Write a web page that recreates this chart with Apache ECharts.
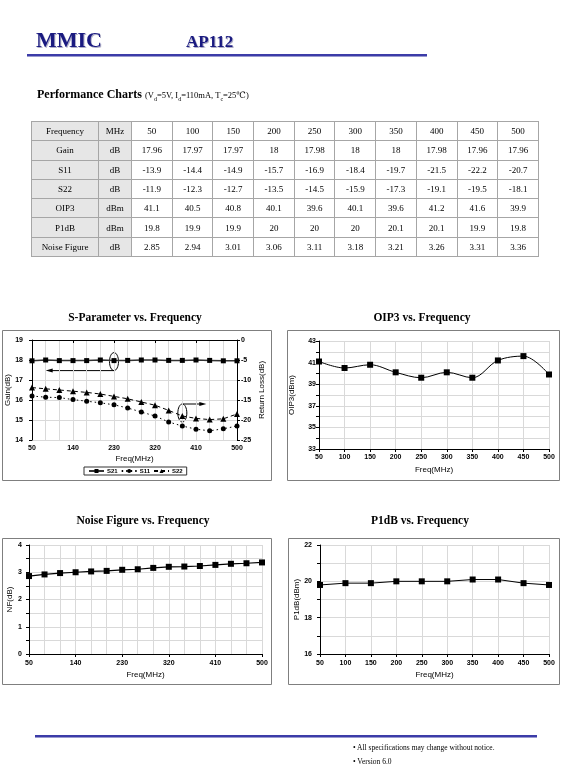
<!DOCTYPE html>
<html>
<head>
<meta charset="utf-8">
<script src="https://cdn.jsdelivr.net/npm/echarts@6/dist/echarts.min.js"></script>
<style>
  body { margin: 0; width: 561px; height: 781px; position: relative; overflow: hidden; background: #fff;
         font-family: "Liberation Serif", "DejaVu Serif", serif; color: #000; }
  #charts { position: absolute; left: 0; top: 0; width: 561px; height: 781px; }
  .abs { position: absolute; white-space: nowrap; line-height: 1; }
  .navy { color: #1a1a80; font-weight: bold; text-shadow: 1px 1px 0 #b0b0c8; }
  .rule { position: absolute; height: 2px; background: #3c3ca8; border-bottom: 1px solid #9a9ad0; }
  #spec { position: absolute; left: 31px; top: 121px; border-collapse: collapse; font-size: 9px;
          border: 1px solid #808080; }
  #spec td { border: 1px solid #a6a6a6; height: 18.3px; padding: 0; text-align: center; }
  #spec td.hd { background: #e6e6e6; }
  .foot { font-size: 7.5px; }
</style>
</head>
<body>
<div id="charts"></div>

<div class="abs navy" style="left:36px;top:29px;font-size:22px;">MMIC</div>
<div class="abs navy" style="left:186px;top:33px;font-size:17px;">AP112</div>
<div class="rule" style="left:27px;top:54px;width:400px;"></div>

<div class="abs" style="left:37px;top:88px;font-size:12px;font-weight:bold;">Performance Charts
  <span style="font-size:8.5px;font-weight:normal;">(V<sub style="font-size:6px">d</sub>=5V, I<sub style="font-size:6px">d</sub>=110mA, T<sub style="font-size:6px">c</sub>=25℃)</span></div>

<table id="spec"></table>

<div class="rule" style="left:35px;top:735px;width:502px;"></div>
<div class="abs foot" style="left:353px;top:744px;">• All specifications may change without notice.</div>
<div class="abs foot" style="left:353px;top:758px;">• Version 6.0</div>

<script>
// table values
var freqTable = [50, 100, 150, 200, 250, 300, 350, 400, 450, 500];
var gainTable = [17.96, 17.97, 17.97, 18, 17.98, 18, 18, 17.98, 17.96, 17.96];
var s11Table = [-13.9, -14.4, -14.9, -15.7, -16.9, -18.4, -19.7, -21.5, -22.2, -20.7];
var s22Table = [-11.9, -12.3, -12.7, -13.5, -14.5, -15.9, -17.3, -19.1, -19.5, -18.1];
var oip3Table = [41.1, 40.5, 40.8, 40.1, 39.6, 40.1, 39.6, 41.2, 41.6, 39.9];
var p1dbTable = [19.8, 19.9, 19.9, 20, 20, 20, 20.1, 20.1, 19.9, 19.8];
var nfTable = [2.85, 2.94, 3.01, 3.06, 3.11, 3.18, 3.21, 3.26, 3.31, 3.36];

var sweepFreq = ['50', '80', '110', '140', '170', '200', '230', '260', '290', '320', '350', '380', '410', '440', '470', '500'];
var s21Curve = [17.96, 18.0, 17.97, 17.97, 17.97, 18.0, 17.97, 17.98, 18.0, 18.0, 17.98, 17.98, 18.0, 17.98, 17.96, 17.96];
var s11Curve = [-14.0, -14.3, -14.4, -14.9, -15.3, -15.7, -16.2, -17.0, -18.0, -19.0, -20.5, -21.5, -22.3, -22.7, -22.2, -21.5];
var s22Curve = [-11.9, -12.2, -12.5, -12.8, -13.1, -13.5, -14.1, -14.7, -15.5, -16.3, -17.6, -19.0, -19.6, -19.9, -19.7, -18.5];
var nfCurve = [2.86, 2.92, 2.97, 3.0, 3.03, 3.05, 3.09, 3.11, 3.16, 3.2, 3.21, 3.23, 3.27, 3.31, 3.33, 3.36];

// build the table
var rows = [
  ['Frequency', 'MHz', freqTable],
  ['Gain', 'dB', gainTable],
  ['S11', 'dB', s11Table],
  ['S22', 'dB', s22Table],
  ['OIP3', 'dBm', oip3Table],
  ['P1dB', 'dBm', p1dbTable],
  ['Noise Figure', 'dB', nfTable]
];
var html = '';
rows.forEach(function (r) {
  html += '<tr><td class="hd" style="width:66px">' + r[0] + '</td><td class="hd" style="width:32px">' + r[1] + '</td>';
  r[2].forEach(function (v) { html += '<td style="width:39.7px">' + v + '</td>'; });
  html += '</tr>';
});
document.getElementById('spec').innerHTML = html;

var chart = echarts.init(document.getElementById('charts'));

var lab = { fontFamily: 'Liberation Sans', fontWeight: 'bold', fontSize: 7, color: '#000' };
var nameStyle = { fontFamily: 'Liberation Sans', fontSize: 8, color: '#000' };
var gridLine = { show: true, lineStyle: { color: '#d9d9d9', width: 1 } };

function catAxis(gi, data, every, margin, gap) {
  return {
    type: 'category', gridIndex: gi, data: data, boundaryGap: false,
    axisLine: { lineStyle: { color: '#000', width: 1 } },
    axisTick: { show: true, length: 3, interval: every, lineStyle: { color: '#000' } },
    axisLabel: Object.assign({ interval: every, margin: margin }, lab),
    splitLine: Object.assign({ interval: 0 }, gridLine),
    name: 'Freq(MHz)', nameLocation: 'middle', nameGap: gap, nameTextStyle: nameStyle
  };
}

function valAxis(gi, min, max, step, labelStep, name, gap, margin, pos, split) {
  return {
    type: 'value', gridIndex: gi, min: min, max: max, interval: step, position: pos || 'left',
    axisLine: { show: true, lineStyle: { color: '#000', width: 1 } },
    axisTick: { show: true, length: 3, lineStyle: { color: '#000' } },
    axisLabel: Object.assign({
      margin: margin,
      formatter: function (v) {
        var k = (v - min) / labelStep;
        return Math.abs(k - Math.round(k)) < 1e-6 ? String(v) : '';
      }
    }, lab),
    splitLine: split === false ? { show: false } : gridLine,
    name: name, nameLocation: 'middle', nameGap: gap, nameTextStyle: nameStyle
  };
}

function titleAt(text, cx, top) {
  return {
    text: text, left: cx, top: top, textAlign: 'center', padding: 0,
    textStyle: { fontFamily: 'Liberation Serif', fontWeight: 'bold', fontSize: 11.5, color: '#000' }
  };
}

function frame(id, x1, y1, x2, y2) {
  return { id: id, type: 'rect', silent: true, z: -1,
    shape: { x: x1 + 0.5, y: y1 + 0.5, width: x2 - x1, height: y2 - y1 },
    style: { fill: null, stroke: '#7f7f7f', lineWidth: 1 } };
}

var black = '#000';

chart.setOption({
  animation: false,
  title: [
    titleAt('S-Parameter vs. Frequency', 135, 312),
    titleAt('OIP3 vs. Frequency', 422, 312),
    titleAt('Noise Figure vs. Frequency', 143, 515),
    titleAt('P1dB vs. Frequency', 420, 515)
  ],
  grid: [
    { left: 32, top: 340, width: 205, height: 100 },
    { left: 319, top: 341, width: 230, height: 108 },
    { left: 29, top: 545, width: 233, height: 109 },
    { left: 320, top: 545, width: 229, height: 109 }
  ],
  xAxis: [
    catAxis(0, sweepFreq, 2, 5, 15),
    catAxis(1, freqTable.map(String), 0, 5, 17),
    catAxis(2, sweepFreq, 2, 6, 17),
    catAxis(3, freqTable.map(String), 0, 6, 17)
  ],
  yAxis: [
    valAxis(0, 14, 19, 1, 1, 'Gain(dB)', 15, 9),
    valAxis(0, -25, 0, 5, 5, 'Return Loss(dB)', 21, 4, 'right', false),
    valAxis(1, 33, 43, 1, 2, 'OIP3(dBm)', 23, 3),
    valAxis(2, 0, 4, 0.5, 1, 'NF(dB)', 14, 7),
    valAxis(3, 16, 22, 1, 2, 'P1dB(dBm)', 15, 8)
  ],
  legend: {
    data: ['S21', 'S11', 'S22'], left: 84, top: 467, padding: [1, 4],
    itemWidth: 15, itemHeight: 5, itemGap: 3, borderColor: '#333', borderWidth: 1,
    textStyle: { fontFamily: 'Liberation Sans', fontWeight: 'bold', fontSize: 6, color: '#000', padding: [0, 0, 0, -2] }
  },
  series: [
    { name: 'S21', type: 'line', xAxisIndex: 0, yAxisIndex: 0, data: s21Curve,
      symbol: 'rect', symbolSize: 5, itemStyle: { color: black },
      lineStyle: { color: '#333', width: 1.5 } },
    { name: 'S11', type: 'line', xAxisIndex: 0, yAxisIndex: 1, data: s11Curve,
      symbol: 'circle', symbolSize: 5, itemStyle: { color: black },
      lineStyle: { color: black, width: 1, type: [1.5, 3] } },
    { name: 'S22', type: 'line', xAxisIndex: 0, yAxisIndex: 1, data: s22Curve,
      symbol: 'triangle', symbolSize: 6, itemStyle: { color: black },
      lineStyle: { color: black, width: 1, type: [4, 3] } },
    { name: 'OIP3', type: 'line', xAxisIndex: 1, yAxisIndex: 2, data: oip3Table,
      symbol: 'rect', symbolSize: 6, smooth: 0.35, itemStyle: { color: black },
      lineStyle: { color: black, width: 1 } },
    { name: 'NF', type: 'line', xAxisIndex: 2, yAxisIndex: 3, data: nfCurve,
      symbol: 'rect', symbolSize: 6, itemStyle: { color: black },
      lineStyle: { color: black, width: 1.2 } },
    { name: 'P1dB', type: 'line', xAxisIndex: 3, yAxisIndex: 4, data: p1dbTable,
      symbol: 'rect', symbolSize: 6, itemStyle: { color: black },
      lineStyle: { color: black, width: 1 } }
  ],
  graphic: [
    frame('f1', 2, 330, 271, 480),
    frame('f2', 287, 330, 559, 480),
    frame('f3', 2, 538, 271, 684),
    frame('f4', 288, 538, 559, 684)
  ]
});

// callout ellipses with arrows on the S-parameter chart, placed from the data
var pGain = chart.convertToPixel({ xAxisIndex: 0, yAxisIndex: 0 }, [6, s21Curve[6]]);
var pArrowEnd = chart.convertToPixel({ xAxisIndex: 0, yAxisIndex: 0 }, [1, s21Curve[1]]);
var pRL = chart.convertToPixel({ xAxisIndex: 0, yAxisIndex: 1 }, [11, s22Curve[11]]);
var ry = 9, rx = 4.5;
var yA = pGain[1] + ry;
var yB = pRL[1] - 3 - ry;
var tipB = pRL[0] + 24;
chart.setOption({
  graphic: [
    { id: 'e1', type: 'ellipse', shape: { cx: pGain[0], cy: pGain[1] + 1, rx: rx, ry: ry },
      style: { fill: null, stroke: black, lineWidth: 1 } },
    { id: 'a1', type: 'line', shape: { x1: pGain[0], y1: yA + 1, x2: pArrowEnd[0] + 5, y2: yA + 1 },
      style: { stroke: black, lineWidth: 1 } },
    { id: 'h1', type: 'polygon', shape: { points: [[pArrowEnd[0], yA + 1], [pArrowEnd[0] + 7, yA - 1], [pArrowEnd[0] + 7, yA + 3]] },
      style: { fill: black } },
    { id: 'e2', type: 'ellipse', shape: { cx: pRL[0], cy: pRL[1] - 3, rx: rx, ry: ry },
      style: { fill: null, stroke: black, lineWidth: 1 } },
    { id: 'a2', type: 'line', shape: { x1: pRL[0], y1: yB, x2: tipB - 5, y2: yB },
      style: { stroke: black, lineWidth: 1 } },
    { id: 'h2', type: 'polygon', shape: { points: [[tipB, yB], [tipB - 7, yB - 2], [tipB - 7, yB + 2]] },
      style: { fill: black } }
  ]
});
</script>
</body>
</html>
